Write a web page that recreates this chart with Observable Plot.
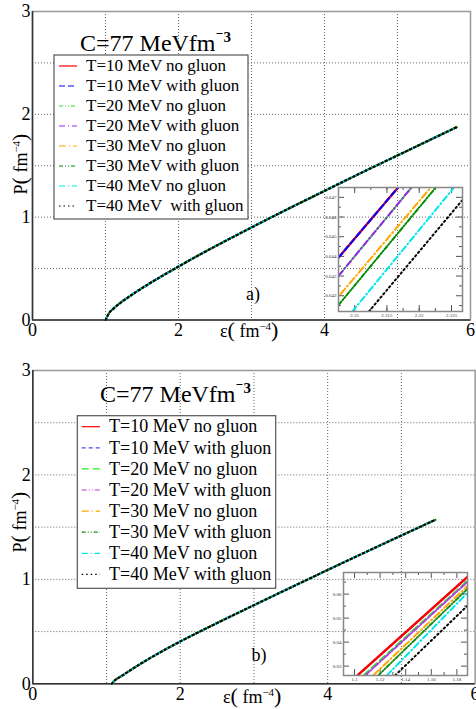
<!DOCTYPE html>
<html>
<head>
<meta charset="utf-8">
<script src="https://cdn.jsdelivr.net/npm/d3@7"></script>
<script src="https://cdn.jsdelivr.net/npm/@observablehq/plot@0.6"></script>
<style>
  html, body { margin: 0; padding: 0; background: #fff; }
  #page { position: relative; width: 476px; height: 709px; overflow: hidden; background: #fff; }
  #page svg { position: absolute; }
  #page text { white-space: pre; }
</style>
</head>
<body>
<div id="page"></div>
<script>
// ---- data ----
const legendNamesA = [
  "T=10 MeV no gluon", "T=10 MeV with gluon", "T=20 MeV no gluon", "T=20 MeV with gluon",
  "T=30 MeV no gluon", "T=30 MeV with gluon", "T=40 MeV no gluon", "T=40 MeV  with gluon"
];
const legendNamesB = [
  "T=10 MeV no gluon", "T=10 MeV with gluon", "T=20 MeV no gluon", "T=20 MeV with gluon",
  "T=30 MeV no gluon", "T=30 MeV with gluon", "T=40 MeV no gluon", "T=40 MeV with gluon"
];

// pressure vs energy density (fm^-4); all eight curves coincide at full scale
const epsA  = [1.0, 1.05, 1.1, 1.2, 1.35, 1.5, 1.75, 2.0, 2.31, 2.5, 3.0, 3.5, 4.0, 4.5, 5.0, 5.5, 5.81];
const presA = [0, 0.068, 0.105, 0.165, 0.24, 0.31, 0.418, 0.52, 0.643, 0.715, 0.9, 1.08, 1.255, 1.43, 1.6, 1.77, 1.875];
const epsB  = [1.07, 1.1, 1.19, 1.35, 1.5, 1.75, 2.0, 2.5, 3.0, 3.5, 4.0, 4.5, 5.0, 5.46];
const presB = [0, 0.025, 0.068, 0.142, 0.208, 0.31, 0.405, 0.582, 0.753, 0.922, 1.09, 1.256, 1.42, 1.57];

// zoomed segments [eps, P] at the inset edges, one per series
const insetAStart = [[2.30753, 0.64395], [2.30753, 0.64395], [2.30753, 0.64302], [2.30753, 0.64302],
                     [2.30784, 0.64209], [2.30753, 0.64154], [2.30964, 0.64120], [2.31221, 0.64120]];
const insetAEnd   = [[2.31670, 0.64749], [2.31670, 0.64749], [2.31877, 0.64749], [2.31877, 0.64749],
                     [2.32175, 0.64749], [2.32253, 0.64749], [2.32536, 0.64749], [2.32665, 0.64685]];
const insetBStart = [[1.10234, 0.02615], [1.10234, 0.02615], [1.10703, 0.02615], [1.10836, 0.02615],
                     [1.11461, 0.02615], [1.11852, 0.02615], [1.12531, 0.02615], [1.13180, 0.02615]];
const insetBEnd   = [[1.18828, 0.06717], [1.18828, 0.06717], [1.18828, 0.06552], [1.18828, 0.06510],
                     [1.18828, 0.06344], [1.18828, 0.06220], [1.18828, 0.06054], [1.18828, 0.05516]];

// axes
const xTicks = [0, 2, 4, 6];
const yTicks = [0, 1, 2, 3];
const gridX = [1, 2, 3, 4, 5];
const gridY = [0.5, 1, 1.5, 2, 2.5];
const insetAXLabels = [2.31, 2.315, 2.32, 2.325];
const insetAXMinor = [2.3075, 2.31, 2.3125, 2.315, 2.3175, 2.32, 2.3225, 2.325];
const insetAYLabels = [0.642, 0.643, 0.644, 0.645, 0.646, 0.647];
const insetAYMinor = [0.6415, 0.6425, 0.6435, 0.6445, 0.6455, 0.6465];
const insetBXLabels = [1.1, 1.12, 1.14, 1.16, 1.18];
const insetBXMinor = [1.11, 1.13, 1.15, 1.17];
const insetBYLabels = [0.03, 0.04, 0.05, 0.06];
const insetBYMinor = [0.035, 0.045, 0.055, 0.065];

// ---- styles ----
const colorsA = ["#ff0000", "#0000ff", "#22ee22", "#a020f0", "#ffa500", "#008b00", "#00e5ee", "#000000"];
const dashesA = [undefined, "6,3", "4,2,1,2,1,2", "6,3,1,3", "7,3,1,3", "4,2,1,2,1,2", "6,3,1,3", "1.5,3"];
const colorsB = ["#ff0000", "#4a4aff", "#22ee22", "#b040e0", "#ffa500", "#1a8c1a", "#00e5ee", "#000000"];
const dashesB = [undefined, "4,3", "7,4", "5,2,1,2,1,2", "7,3,1,3", "4,2,1,2,1,2", "6,3,1,3", "1.5,3"];
const SERIF = "'Liberation Serif', 'DejaVu Serif', serif";

const page = document.getElementById("page");

function mainPanel({top, height, margin, eps, pres, colors, dashes}) {
  const curve = eps.map((e, i) => ({e, p: pres[i]}));
  const svg = Plot.plot({
    width: 476, height,
    marginLeft: margin[3], marginRight: margin[1], marginTop: margin[0], marginBottom: margin[2],
    x: {domain: [0, 6]}, y: {domain: [0, 3]},
    style: {fontFamily: SERIF, background: "transparent", color: "#000"},
    marks: [
      Plot.ruleX(gridX, {stroke: "#666", strokeDasharray: "1,2", strokeWidth: 1}),
      Plot.ruleY(gridY, {stroke: "#666", strokeDasharray: "1,2", strokeWidth: 1}),
      Plot.frame({stroke: "#999", strokeWidth: 1.5}),
      Plot.ruleX([0], {stroke: "#333", strokeWidth: 1.5}),
      Plot.ruleY([0], {stroke: "#333", strokeWidth: 1.5}),
      ...colors.map((c, i) => Plot.line(curve, {
        x: "e", y: "p", stroke: c, strokeDasharray: dashes[i], strokeWidth: 2, curve: "monotone-x"
      })),
      Plot.axisX({ticks: xTicks, tickSize: 0, tickPadding: 3, fontSize: 18, label: null, tickFormat: d => String(d)}),
      Plot.axisY({ticks: yTicks, tickSize: 0, tickPadding: 2, fontSize: 18, label: null, tickFormat: d => String(d)})
    ]
  });
  svg.style.left = "0px";
  svg.style.top = top + "px";
  page.appendChild(svg);
  return d3.select(svg);
}

function addTitle(g, x, y) {
  const t = g.append("text").attr("x", x).attr("y", y).attr("text-anchor", "start")
    .attr("font-family", SERIF).attr("font-size", 24).attr("fill", "#000");
  t.append("tspan").text("C=77 MeVfm");
  t.append("tspan").attr("dy", -9).attr("font-size", 15).attr("font-weight", "bold").text("\u207B3");
}

function addUnitLabel(g, symbol, transform, anchor) {
  const t = g.append("text").attr("transform", transform).attr("text-anchor", anchor)
    .attr("font-family", SERIF).attr("font-size", 18).attr("fill", "#000");
  t.append("tspan").text(symbol);
  t.append("tspan").attr("font-size", 22).text("(");
  t.append("tspan").text(" fm");
  t.append("tspan").attr("dy", -7).attr("font-size", 11).text("\u22124");
  t.append("tspan").attr("dy", 7).attr("font-size", 22).text(")");
}

function addLegend(g, {x, y, w, h, row0, step, lx0, lx1, tx, fontSize, names, colors, dashes}) {
  const lg = g.append("g");
  lg.append("rect").attr("x", x).attr("y", y).attr("width", w).attr("height", h)
    .attr("fill", "#fff").attr("stroke", "#555").attr("stroke-width", 1.2);
  names.forEach((name, i) => {
    const cy = row0 + step * i;
    lg.append("line").attr("x1", lx0).attr("x2", lx1).attr("y1", cy).attr("y2", cy)
      .attr("stroke", colors[i]).attr("stroke-width", 1.2)
      .attr("stroke-dasharray", dashes[i] || null);
    lg.append("text").attr("x", tx).attr("y", cy + fontSize * 0.32).attr("text-anchor", "start")
      .attr("font-family", SERIF).attr("font-size", fontSize).attr("fill", "#000")
      .style("white-space", "pre").text(name);
  });
}

function insetPanel({left, top, width, height, margin, xDomain, yDomain, xLabels, xMinor, yLabels, yMinor, starts, ends, colors, dashes, order}) {
  const pw = width - margin[1] - margin[3];
  const ph = height - margin[0] - margin[2];
  const tickStyle = {stroke: "#555", strokeWidth: 1};
  const svg = Plot.plot({
    width, height,
    marginTop: margin[0], marginRight: margin[1], marginBottom: margin[2], marginLeft: margin[3],
    x: {domain: xDomain}, y: {domain: yDomain},
    style: {fontFamily: SERIF, background: "transparent", color: "#333"},
    marks: [
      // inward ticks on all four sides
      Plot.tickX(xLabels, {x: d => d, insetTop: ph - 6, ...tickStyle}),
      Plot.tickX(xLabels, {x: d => d, insetBottom: ph - 6, ...tickStyle}),
      Plot.tickX(xMinor, {x: d => d, insetTop: ph - 3, ...tickStyle}),
      Plot.tickX(xMinor, {x: d => d, insetBottom: ph - 3, ...tickStyle}),
      Plot.tickY(yLabels, {y: d => d, insetRight: pw - 6, ...tickStyle}),
      Plot.tickY(yLabels, {y: d => d, insetLeft: pw - 6, ...tickStyle}),
      Plot.tickY(yMinor, {y: d => d, insetRight: pw - 3, ...tickStyle}),
      Plot.tickY(yMinor, {y: d => d, insetLeft: pw - 3, ...tickStyle}),
      ...order.map(i => Plot.line([starts[i], ends[i]], {
        x: d => d[0], y: d => d[1], stroke: colors[i], strokeDasharray: dashes[i],
        strokeWidth: i === 0 ? 2.4 : 2, clip: true
      })),
      Plot.frame({stroke: "#888", strokeWidth: 1.5}),
      Plot.axisX({ticks: xLabels, tickSize: 0, tickPadding: 2, fontSize: 5, label: null, tickFormat: d => String(d)}),
      Plot.axisY({ticks: yLabels, tickSize: 0, tickPadding: 2, fontSize: 5, label: null, tickFormat: d => String(d)})
    ]
  });
  svg.style.left = left + "px";
  svg.style.top = top + "px";
  page.appendChild(svg);
}

// ---- panel a ----
const ga = mainPanel({top: 0, height: 345, margin: [11, 6, 25.5, 32], eps: epsA, pres: presA, colors: colorsA, dashes: dashesA});
addTitle(ga, 80, 51);
addUnitLabel(ga, "\u03B5", "translate(220,337)", "start");
addUnitLabel(ga, "P", "translate(27,164) rotate(-90)", "middle");
ga.append("text").attr("x", 253).attr("y", 300).attr("text-anchor", "middle")
  .attr("font-family", SERIF).attr("font-size", 18).text("a)");
addLegend(ga, {x: 54, y: 55, w: 194, h: 164, row0: 66, step: 20, lx0: 59, lx1: 77, tx: 86, fontSize: 17,
  names: legendNamesA, colors: colorsA, dashes: dashesA});
insetPanel({left: 318, top: 182, width: 150, height: 140, margin: [5, 6, 11, 20],
  xDomain: [2.3075, 2.3267], yDomain: [0.6412, 0.6475],
  xLabels: insetAXLabels, xMinor: insetAXMinor, yLabels: insetAYLabels, yMinor: insetAYMinor,
  starts: insetAStart, ends: insetAEnd, colors: colorsA, dashes: dashesA, order: [0, 1, 2, 3, 4, 5, 6, 7]});

// ---- panel b ----
const gb = mainPanel({top: 345, height: 364, margin: [25, 1.4, 25.7, 32.3], eps: epsB, pres: presB, colors: colorsB, dashes: dashesB});
addTitle(gb, 100, 57);
addUnitLabel(gb, "\u03B5", "translate(223,358)", "start");
addUnitLabel(gb, "P", "translate(26,177) rotate(-90)", "middle");
gb.append("text").attr("x", 259).attr("y", 316).attr("text-anchor", "middle")
  .attr("font-family", SERIF).attr("font-size", 18).text("b)");
addLegend(gb, {x: 77.3, y: 70.7, w: 198.4, h: 172.6, row0: 81.7, step: 21.1, lx0: 81.7, lx1: 100, tx: 109, fontSize: 18,
  names: legendNamesB, colors: colorsB, dashes: dashesB});
insetPanel({left: 323, top: 566, width: 150, height: 120, margin: [6, 6, 11, 20],
  xDomain: [1.0914, 1.1883], yDomain: [0.0261, 0.069],
  xLabels: insetBXLabels, xMinor: insetBXMinor, yLabels: insetBYLabels, yMinor: insetBYMinor,
  starts: insetBStart, ends: insetBEnd, colors: colorsB, dashes: dashesB, order: [1, 0, 2, 3, 4, 5, 6, 7]});
</script>
</body>
</html>
